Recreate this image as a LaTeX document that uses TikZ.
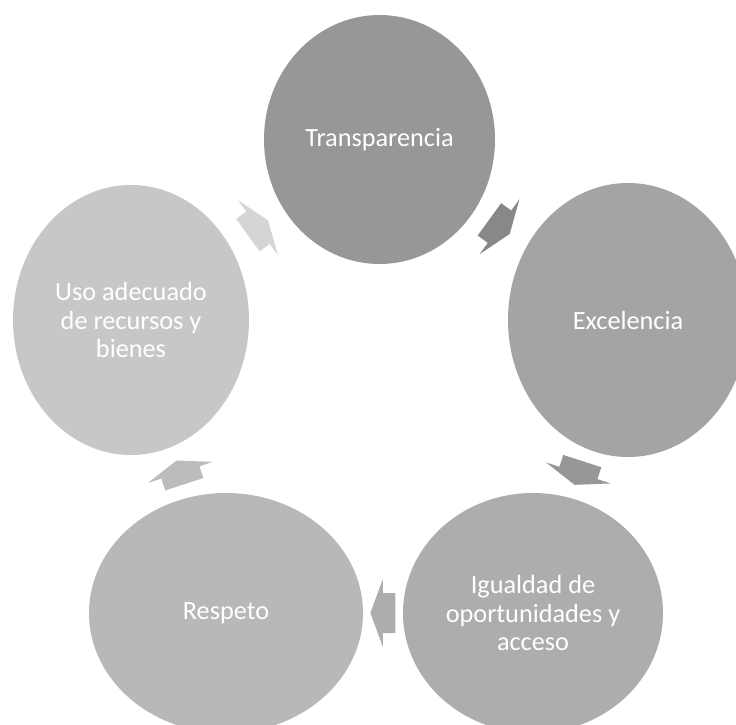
\documentclass[tikz,border=0pt]{standalone}
\usepackage{fontspec}
\setmainfont{Carlito}
\usepackage{xcolor}
\usepackage{tikz}
\usetikzlibrary{shapes.geometric,calc}

\definecolor{valA}{HTML}{979797}
\definecolor{valB}{HTML}{A4A4A4}
\definecolor{valC}{HTML}{ADADAD}
\definecolor{valD}{HTML}{B8B8B8}
\definecolor{valE}{HTML}{C7C7C7}
\definecolor{arrA}{HTML}{888888}
\definecolor{arrB}{HTML}{979797}
\definecolor{arrC}{HTML}{ADADAD}
\definecolor{arrD}{HTML}{BCBCBC}
\definecolor{arrE}{HTML}{D5D5D5}

\begin{document}
\begin{tikzpicture}[x=0.75pt, y=-0.75pt,
    value/.style={ellipse, inner sep=0pt, align=center, text=white, font=\fontsize{19.7}{21.5}\selectfont}]
    \useasboundingbox (0,0) rectangle (736,725);
    \clip (0,0) rectangle (736,725);

    % Values
    \node[value, fill=valA, minimum width=173.25pt, minimum height=186.75pt] (tr) at (379.5,139.5) {Transparencia};
    \node[value, fill=valB, minimum width=180pt, minimum height=205.5pt] (ex) at (628,320) {Excelencia};
    \node[value, fill=valC, minimum width=195pt, minimum height=180pt] (ig) at (533,613) {Igualdad de\\oportunidades y\\acceso};
    \node[value, fill=valD, minimum width=205.5pt, minimum height=180pt] (re) at (226,613) {Respeto};
    \node[value, fill=valE, minimum width=177pt, minimum height=202.5pt] (us) at (131,320) {Uso adecuado\\de recursos y\\bienes};

    % Arrows
    \foreach \from/\to/\pos/\col in {tr/ex/0.483/arrA, ex/ig/0.522/arrB, ig/re/0.489/arrC, re/us/0.480/arrD, us/tr/0.511/arrE} {
        \pgfmathanglebetweenpoints{\pgfpointanchor{\from}{center}}{\pgfpointanchor{\to}{center}}
        \let\turn\pgfmathresult
        \fill[\col, shift={($(\from.center)!\pos!(\to.center)$)}, rotate=\turn]
            (-12.5,-20) -- (0,-20) -- (0,-34) -- (12.5,0) -- (0,34) -- (0,20) -- (-12.5,20) -- cycle;
    }
\end{tikzpicture}
\end{document}
